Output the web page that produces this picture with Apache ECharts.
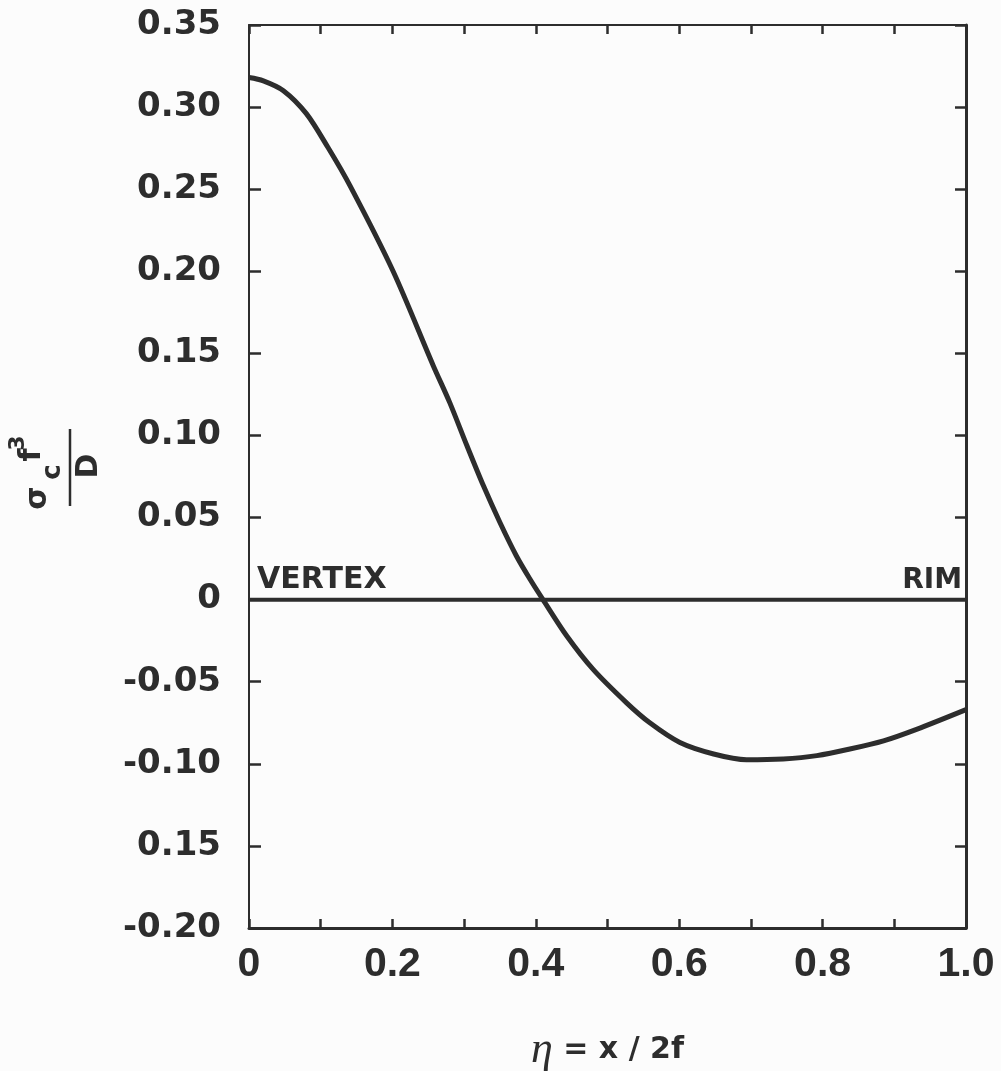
<!DOCTYPE html>
<html>
<head>
<meta charset="utf-8">
<script src="https://cdn.jsdelivr.net/npm/echarts@6/dist/echarts.min.js"></script>
<style>
  html, body { margin: 0; padding: 0; background: #fcfcfc; }
  #chart { width: 1001px; height: 1071px; }
</style>
</head>
<body>
<div id="chart"></div>
<script>
// values
const eta = [0, 0.02, 0.048, 0.080, 0.110, 0.141, 0.201, 0.257, 0.280, 0.304, 0.327, 0.350, 0.373, 0.392, 0.410, 0.443, 0.480, 0.527, 0.559, 0.601, 0.648, 0.694, 0.745, 0.792, 0.838, 0.885, 0.931, 1.0];
const sigma = [0.318, 0.316, 0.310, 0.296, 0.2755, 0.252, 0.200, 0.1425, 0.120, 0.0937, 0.0693, 0.047, 0.0266, 0.0124, 0.0, -0.022, -0.0425, -0.063, -0.075, -0.087, -0.094, -0.0975, -0.097, -0.095, -0.091, -0.086, -0.079, -0.067];

const zeroX = [0, 1];
const zeroY = [0, 0];
const endLabels = ['VERTEX', 'RIM'];

const xTickLabels = ['0', '', '0.2', '', '0.4', '', '0.6', '', '0.8', '', '1.0'];
// the original prints "0.15" (no minus) at -0.15
const yTickLabels = ['-0.20', '0.15', '-0.10', '-0.05', '0', '0.05', '0.10', '0.15', '0.20', '0.25', '0.30', '0.35'];

const ink = '#2d2d2d';
const chart = echarts.init(document.getElementById('chart'));

const xCommon = { type: 'value', min: 0, max: 1, interval: 0.1, splitLine: { show: false } };
const yCommon = { type: 'value', min: -0.2, max: 0.35, interval: 0.05, splitLine: { show: false } };

chart.setOption({
  backgroundColor: '#fcfcfc',
  animation: false,
  grid: { left: 249, right: 35, top: 25, bottom: 143, outerBoundsMode: 'none' },
  xAxis: [
    Object.assign({}, xCommon, {
      position: 'bottom',
      axisLine: { onZero: false, lineStyle: { color: ink, width: 3 } },
      axisTick: { inside: true, length: 9, lineStyle: { color: ink, width: 2.5 } },
      axisLabel: {
        margin: 16, color: ink, fontFamily: 'Liberation Sans', fontWeight: 'bold', fontSize: 41,
        formatter: v => xTickLabels[Math.round(v * 10)]
      },
      name: '{eta|η}{b| = x / 2f}', nameLocation: 'middle', nameGap: 100,
      nameTextStyle: {
        rich: {
          eta: { fontFamily: 'Liberation Serif', fontStyle: 'italic', fontSize: 44, color: ink },
          b: { fontFamily: 'DejaVu Sans', fontWeight: 'bold', fontSize: 30, color: ink }
        }
      }
    }),
    Object.assign({}, xCommon, {
      position: 'top',
      axisLine: { onZero: false, lineStyle: { color: ink, width: 2 } },
      axisTick: { inside: true, length: 9, lineStyle: { color: ink, width: 2.5 } },
      axisLabel: { show: false }
    })
  ],
  yAxis: [
    Object.assign({}, yCommon, {
      position: 'left',
      axisLine: { show: true, onZero: false, lineStyle: { color: ink, width: 2 } },
      axisTick: { show: true, inside: true, length: 12, lineStyle: { color: ink, width: 2.5 } },
      axisLabel: {
        margin: 28, color: ink, fontFamily: 'DejaVu Sans', fontWeight: 'bold', fontSize: 34,
        formatter: v => yTickLabels[Math.round((v + 0.2) / 0.05)]
      }
    }),
    Object.assign({}, yCommon, {
      position: 'right',
      axisLine: { show: true, onZero: false, lineStyle: { color: ink, width: 3 } },
      axisTick: { show: true, inside: true, length: 11, lineStyle: { color: ink, width: 2.5 } },
      axisLabel: { show: false }
    })
  ],
  graphic: [{
    type: 'group', x: 70, y: 468, rotation: Math.PI / 2,
    children: [
      { type: 'text', x: -30, y: -32, style: { text: 'σ', font: 'bold 30px "DejaVu Sans"', fill: ink, align: 'center', verticalAlign: 'middle' } },
      { type: 'text', x: -4, y: -17, style: { text: 'c', font: 'bold 26px "DejaVu Sans"', fill: ink, align: 'center', verticalAlign: 'middle' } },
      { type: 'text', x: 13, y: -38, style: { text: 'f', font: 'bold 30px "DejaVu Sans"', fill: ink, align: 'center', verticalAlign: 'middle' } },
      { type: 'text', x: 25, y: -52, style: { text: '3', font: 'bold 22px "DejaVu Sans"', fill: ink, align: 'center', verticalAlign: 'middle' } },
      { type: 'line', shape: { x1: -38, y1: 0, x2: 39, y2: 0 }, style: { stroke: ink, lineWidth: 2.5 } },
      { type: 'text', x: 2, y: 19, style: { text: 'D', font: 'bold 30px "DejaVu Sans"', fill: ink, align: 'center', verticalAlign: 'middle' } }
    ]
  }],
  series: [
    {
      type: 'line',
      data: zeroX.map((x, i) => ({
        value: [x, zeroY[i]],
        label: {
          show: true, position: 'top', distance: 4,
          align: i === 0 ? 'left' : 'right',
          offset: i === 0 ? [8, 0] : [-4, 0],
          formatter: endLabels[i],
          color: ink, fontFamily: 'DejaVu Sans', fontWeight: 'bold', fontSize: i === 0 ? 30 : 28
        }
      })),
      symbol: 'circle', symbolSize: 1, showSymbol: true,
      itemStyle: { color: ink },
      lineStyle: { color: ink, width: 4 },
      silent: true
    },
    {
      type: 'line',
      data: eta.map((x, i) => [x, sigma[i]]),
      smooth: 0.3,
      showSymbol: false,
      lineStyle: { color: ink, width: 5 },
      silent: true
    }
  ]
});
</script>
</body>
</html>
